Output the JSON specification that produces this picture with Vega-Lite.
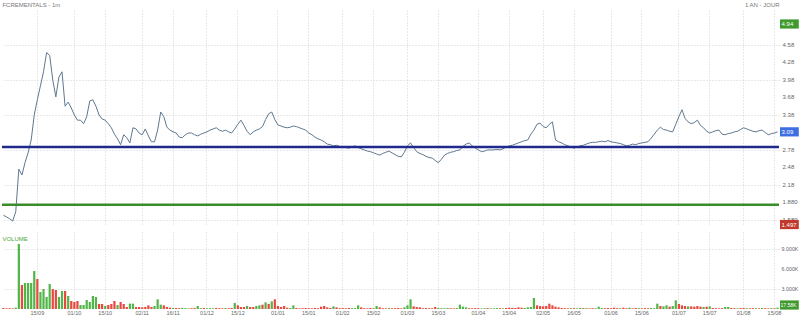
{
"$schema": "https://vega.github.io/schema/vega-lite/v6.json",
"padding": {"left": 0, "top": 2, "right": 0, "bottom": 0},
"background": "white",
"spacing": 2,
"config": {
  "view": {"stroke": null},
  "font": "Liberation Sans",
  "axis": {"gridColor": "#d2d2d2", "gridDash": [1, 2], "gridWidth": 1, "domain": false, "ticks": false, "labelColor": "#666", "labelFontSize": 6, "title": null, "zindex": 0, "labelOverlap": false},
  "scale": {"bandPaddingInner": 0.28, "bandPaddingOuter": 0.1}
},
"resolve": {"scale": {"x": "shared", "color": "independent"}},
"datasets": {
"q": [
{"d":"2015-08-31","p":1.66,"v":150,"u":0},{"d":"2015-09-01","p":1.63,"v":100,"u":0},{"d":"2015-09-02","p":1.60,"v":120,"u":0},{"d":"2015-09-03","p":1.56,"v":80,"u":0},{"d":"2015-09-04","p":1.72,"v":200,"u":1},
{"d":"2015-09-07","p":2.45,"v":9750,"u":1},{"d":"2015-09-08","p":2.35,"v":3600,"u":0},{"d":"2015-09-09","p":2.56,"v":3900,"u":1},{"d":"2015-09-10","p":2.73,"v":3900,"u":1},{"d":"2015-09-11","p":2.95,"v":3900,"u":1},
{"d":"2015-09-14","p":3.38,"v":5700,"u":1},{"d":"2015-09-15","p":3.64,"v":4500,"u":0},{"d":"2015-09-16","p":3.88,"v":2550,"u":1},{"d":"2015-09-17","p":4.12,"v":3000,"u":1},{"d":"2015-09-18","p":4.45,"v":1800,"u":1},
{"d":"2015-09-21","p":4.40,"v":3750,"u":1},{"d":"2015-09-22","p":3.98,"v":3000,"u":0},{"d":"2015-09-23","p":3.69,"v":2850,"u":0},{"d":"2015-09-24","p":4.03,"v":1800,"u":1},{"d":"2015-09-25","p":4.12,"v":2700,"u":1},
{"d":"2015-09-28","p":3.53,"v":2700,"u":0},{"d":"2015-09-29","p":3.60,"v":1950,"u":1},{"d":"2015-09-30","p":3.50,"v":1200,"u":0},{"d":"2015-10-01","p":3.38,"v":1050,"u":0},{"d":"2015-10-02","p":3.29,"v":1200,"u":0},
{"d":"2015-10-05","p":3.29,"v":600,"u":1},{"d":"2015-10-06","p":3.23,"v":600,"u":1},{"d":"2015-10-07","p":3.35,"v":1350,"u":1},{"d":"2015-10-08","p":3.62,"v":1050,"u":1},{"d":"2015-10-09","p":3.64,"v":1950,"u":1},
{"d":"2015-10-12","p":3.53,"v":1800,"u":1},{"d":"2015-10-13","p":3.38,"v":750,"u":0},{"d":"2015-10-14","p":3.31,"v":750,"u":0},{"d":"2015-10-15","p":3.29,"v":450,"u":1},{"d":"2015-10-16","p":3.23,"v":600,"u":0},
{"d":"2015-10-19","p":3.16,"v":750,"u":0},{"d":"2015-10-20","p":3.05,"v":1200,"u":0},{"d":"2015-10-21","p":2.97,"v":600,"u":1},{"d":"2015-10-22","p":2.87,"v":1050,"u":0},{"d":"2015-10-23","p":3.04,"v":750,"u":0},
{"d":"2015-10-26","p":2.99,"v":300,"u":0},{"d":"2015-10-27","p":2.90,"v":800,"u":1},{"d":"2015-10-28","p":3.16,"v":800,"u":1},{"d":"2015-10-29","p":3.14,"v":300,"u":0},{"d":"2015-10-30","p":3.07,"v":300,"u":0},
{"d":"2015-11-02","p":3.04,"v":250,"u":0},{"d":"2015-11-03","p":3.14,"v":300,"u":0},{"d":"2015-11-04","p":3.02,"v":550,"u":0},{"d":"2015-11-05","p":2.92,"v":300,"u":0},{"d":"2015-11-06","p":2.92,"v":450,"u":1},
{"d":"2015-11-09","p":3.12,"v":1450,"u":1},{"d":"2015-11-10","p":3.43,"v":650,"u":1},{"d":"2015-11-11","p":3.35,"v":550,"u":0},{"d":"2015-11-12","p":3.17,"v":300,"u":0},{"d":"2015-11-13","p":3.12,"v":200,"u":0},
{"d":"2015-11-16","p":3.09,"v":150,"u":1},{"d":"2015-11-17","p":3.07,"v":150,"u":0},{"d":"2015-11-18","p":3.00,"v":120,"u":0},{"d":"2015-11-19","p":2.99,"v":180,"u":1},{"d":"2015-11-20","p":3.04,"v":130,"u":1},
{"d":"2015-11-23","p":3.07,"v":100,"u":1},{"d":"2015-11-24","p":3.07,"v":120,"u":0},{"d":"2015-11-25","p":3.04,"v":140,"u":0},{"d":"2015-11-26","p":3.02,"v":450,"u":1},{"d":"2015-11-27","p":3.05,"v":120,"u":1},
{"d":"2015-11-30","p":3.07,"v":150,"u":0},{"d":"2015-12-01","p":3.09,"v":100,"u":1},{"d":"2015-12-02","p":3.12,"v":130,"u":1},{"d":"2015-12-03","p":3.14,"v":110,"u":1},{"d":"2015-12-04","p":3.16,"v":160,"u":0},
{"d":"2015-12-07","p":3.12,"v":120,"u":0},{"d":"2015-12-08","p":3.10,"v":100,"u":0},{"d":"2015-12-09","p":3.12,"v":140,"u":1},{"d":"2015-12-10","p":3.09,"v":120,"u":0},{"d":"2015-12-11","p":3.07,"v":150,"u":0},
{"d":"2015-12-14","p":3.14,"v":900,"u":1},{"d":"2015-12-15","p":3.22,"v":550,"u":0},{"d":"2015-12-16","p":3.29,"v":300,"u":0},{"d":"2015-12-17","p":3.20,"v":300,"u":0},{"d":"2015-12-18","p":3.10,"v":450,"u":1},
{"d":"2015-12-21","p":3.04,"v":300,"u":0},{"d":"2015-12-22","p":3.09,"v":300,"u":0},{"d":"2015-12-23","p":3.12,"v":450,"u":1},{"d":"2015-12-24","p":3.14,"v":550,"u":1},{"d":"2015-12-25","p":3.18,"v":650,"u":0},
{"d":"2015-12-28","p":3.30,"v":1000,"u":1},{"d":"2015-12-29","p":3.40,"v":750,"u":0},{"d":"2015-12-30","p":3.43,"v":1150,"u":1},{"d":"2015-12-31","p":3.30,"v":1450,"u":0},{"d":"2016-01-01","p":3.21,"v":450,"u":0},
{"d":"2016-01-04","p":3.19,"v":300,"u":0},{"d":"2016-01-05","p":3.17,"v":450,"u":0},{"d":"2016-01-06","p":3.16,"v":200,"u":0},{"d":"2016-01-07","p":3.17,"v":150,"u":1},{"d":"2016-01-08","p":3.19,"v":550,"u":1},
{"d":"2016-01-11","p":3.18,"v":150,"u":0},{"d":"2016-01-12","p":3.16,"v":100,"u":0},{"d":"2016-01-13","p":3.14,"v":120,"u":0},{"d":"2016-01-14","p":3.12,"v":150,"u":0},{"d":"2016-01-15","p":3.07,"v":120,"u":0},
{"d":"2016-01-18","p":3.04,"v":100,"u":0},{"d":"2016-01-19","p":3.00,"v":150,"u":0},{"d":"2016-01-20","p":2.97,"v":120,"u":0},{"d":"2016-01-21","p":2.95,"v":350,"u":0},{"d":"2016-01-22","p":2.92,"v":450,"u":0},
{"d":"2016-01-25","p":2.88,"v":250,"u":0},{"d":"2016-01-26","p":2.87,"v":150,"u":0},{"d":"2016-01-27","p":2.85,"v":400,"u":1},{"d":"2016-01-28","p":2.86,"v":250,"u":0},{"d":"2016-01-29","p":2.84,"v":120,"u":0},
{"d":"2016-02-01","p":2.83,"v":130,"u":0},{"d":"2016-02-02","p":2.82,"v":110,"u":0},{"d":"2016-02-03","p":2.81,"v":150,"u":0},{"d":"2016-02-04","p":2.83,"v":120,"u":1},{"d":"2016-02-05","p":2.85,"v":140,"u":1},
{"d":"2016-02-08","p":2.82,"v":550,"u":1},{"d":"2016-02-09","p":2.80,"v":250,"u":0},{"d":"2016-02-10","p":2.78,"v":120,"u":0},{"d":"2016-02-11","p":2.76,"v":100,"u":0},{"d":"2016-02-12","p":2.75,"v":150,"u":0},
{"d":"2016-02-15","p":2.73,"v":120,"u":1},{"d":"2016-02-16","p":2.71,"v":450,"u":1},{"d":"2016-02-17","p":2.69,"v":250,"u":0},{"d":"2016-02-18","p":2.72,"v":120,"u":0},{"d":"2016-02-19","p":2.74,"v":100,"u":0},
{"d":"2016-02-22","p":2.76,"v":140,"u":1},{"d":"2016-02-23","p":2.73,"v":110,"u":0},{"d":"2016-02-24","p":2.70,"v":120,"u":0},{"d":"2016-02-25","p":2.67,"v":150,"u":0},{"d":"2016-02-26","p":2.66,"v":100,"u":0},
{"d":"2016-02-29","p":2.74,"v":250,"u":1},{"d":"2016-03-01","p":2.85,"v":550,"u":1},{"d":"2016-03-02","p":2.90,"v":1450,"u":1},{"d":"2016-03-03","p":2.82,"v":400,"u":0},{"d":"2016-03-04","p":2.75,"v":300,"u":0},
{"d":"2016-03-07","p":2.72,"v":250,"u":0},{"d":"2016-03-08","p":2.70,"v":120,"u":0},{"d":"2016-03-09","p":2.67,"v":150,"u":0},{"d":"2016-03-10","p":2.65,"v":120,"u":0},{"d":"2016-03-11","p":2.64,"v":110,"u":0},
{"d":"2016-03-14","p":2.60,"v":300,"u":0},{"d":"2016-03-15","p":2.56,"v":150,"u":1},{"d":"2016-03-16","p":2.62,"v":120,"u":1},{"d":"2016-03-17","p":2.69,"v":100,"u":1},{"d":"2016-03-18","p":2.72,"v":140,"u":1},
{"d":"2016-03-21","p":2.74,"v":120,"u":0},{"d":"2016-03-22","p":2.75,"v":100,"u":0},{"d":"2016-03-23","p":2.77,"v":130,"u":1},{"d":"2016-03-24","p":2.78,"v":650,"u":1},{"d":"2016-03-25","p":2.84,"v":350,"u":1},
{"d":"2016-03-28","p":2.88,"v":250,"u":1},{"d":"2016-03-29","p":2.90,"v":120,"u":0},{"d":"2016-03-30","p":2.85,"v":100,"u":0},{"d":"2016-03-31","p":2.81,"v":130,"u":0},{"d":"2016-04-01","p":2.78,"v":120,"u":0},
{"d":"2016-04-04","p":2.75,"v":100,"u":1},{"d":"2016-04-05","p":2.76,"v":110,"u":1},{"d":"2016-04-06","p":2.78,"v":130,"u":0},{"d":"2016-04-07","p":2.78,"v":100,"u":1},{"d":"2016-04-08","p":2.78,"v":110,"u":1},
{"d":"2016-04-11","p":2.79,"v":140,"u":1},{"d":"2016-04-12","p":2.78,"v":120,"u":0},{"d":"2016-04-13","p":2.80,"v":100,"u":1},{"d":"2016-04-14","p":2.83,"v":150,"u":0},{"d":"2016-04-15","p":2.85,"v":200,"u":0},
{"d":"2016-04-18","p":2.86,"v":180,"u":0},{"d":"2016-04-19","p":2.88,"v":150,"u":0},{"d":"2016-04-20","p":2.90,"v":250,"u":0},{"d":"2016-04-21","p":2.92,"v":200,"u":0},{"d":"2016-04-22","p":2.94,"v":150,"u":1},
{"d":"2016-04-25","p":2.95,"v":250,"u":1},{"d":"2016-04-26","p":3.05,"v":300,"u":1},{"d":"2016-04-27","p":3.12,"v":1650,"u":1},{"d":"2016-04-28","p":3.22,"v":550,"u":0},{"d":"2016-04-29","p":3.24,"v":450,"u":0},
{"d":"2016-05-02","p":3.18,"v":400,"u":0},{"d":"2016-05-03","p":3.16,"v":450,"u":0},{"d":"2016-05-04","p":3.22,"v":800,"u":0},{"d":"2016-05-05","p":3.26,"v":550,"u":0},{"d":"2016-05-06","p":2.95,"v":350,"u":0},
{"d":"2016-05-09","p":2.92,"v":250,"u":0},{"d":"2016-05-10","p":2.90,"v":150,"u":0},{"d":"2016-05-11","p":2.87,"v":120,"u":0},{"d":"2016-05-12","p":2.85,"v":100,"u":0},{"d":"2016-05-13","p":2.83,"v":130,"u":1},
{"d":"2016-05-16","p":2.81,"v":120,"u":0},{"d":"2016-05-17","p":2.83,"v":100,"u":1},{"d":"2016-05-18","p":2.85,"v":150,"u":1},{"d":"2016-05-19","p":2.86,"v":120,"u":0},{"d":"2016-05-20","p":2.88,"v":130,"u":1},
{"d":"2016-05-23","p":2.90,"v":100,"u":0},{"d":"2016-05-24","p":2.91,"v":120,"u":0},{"d":"2016-05-25","p":2.91,"v":110,"u":1},{"d":"2016-05-26","p":2.92,"v":350,"u":1},{"d":"2016-05-27","p":2.93,"v":150,"u":1},
{"d":"2016-05-30","p":2.92,"v":120,"u":0},{"d":"2016-05-31","p":2.94,"v":140,"u":0},{"d":"2016-06-01","p":2.92,"v":120,"u":0},{"d":"2016-06-02","p":2.91,"v":200,"u":0},{"d":"2016-06-03","p":2.90,"v":130,"u":0},
{"d":"2016-06-06","p":2.89,"v":110,"u":1},{"d":"2016-06-07","p":2.87,"v":200,"u":0},{"d":"2016-06-08","p":2.85,"v":120,"u":0},{"d":"2016-06-09","p":2.86,"v":200,"u":1},{"d":"2016-06-10","p":2.88,"v":100,"u":0},
{"d":"2016-06-13","p":2.87,"v":150,"u":0},{"d":"2016-06-14","p":2.89,"v":120,"u":1},{"d":"2016-06-15","p":2.90,"v":100,"u":0},{"d":"2016-06-16","p":2.91,"v":130,"u":0},{"d":"2016-06-17","p":2.92,"v":110,"u":0},
{"d":"2016-06-20","p":2.98,"v":150,"u":1},{"d":"2016-06-21","p":3.05,"v":120,"u":1},{"d":"2016-06-22","p":3.12,"v":800,"u":1},{"d":"2016-06-23","p":3.17,"v":450,"u":0},{"d":"2016-06-24","p":3.13,"v":400,"u":1},
{"d":"2016-06-27","p":3.12,"v":550,"u":1},{"d":"2016-06-28","p":3.10,"v":350,"u":0},{"d":"2016-06-29","p":3.09,"v":450,"u":1},{"d":"2016-06-30","p":3.22,"v":1300,"u":1},{"d":"2016-07-01","p":3.35,"v":750,"u":0},
{"d":"2016-07-04","p":3.47,"v":550,"u":0},{"d":"2016-07-05","p":3.32,"v":450,"u":0},{"d":"2016-07-06","p":3.26,"v":400,"u":1},{"d":"2016-07-07","p":3.23,"v":400,"u":0},{"d":"2016-07-08","p":3.25,"v":350,"u":0},
{"d":"2016-07-11","p":3.29,"v":450,"u":0},{"d":"2016-07-12","p":3.20,"v":350,"u":0},{"d":"2016-07-13","p":3.16,"v":300,"u":1},{"d":"2016-07-14","p":3.10,"v":350,"u":0},{"d":"2016-07-15","p":3.07,"v":400,"u":1},
{"d":"2016-07-18","p":3.09,"v":150,"u":0},{"d":"2016-07-19","p":3.11,"v":120,"u":0},{"d":"2016-07-20","p":3.12,"v":100,"u":0},{"d":"2016-07-21","p":3.05,"v":130,"u":0},{"d":"2016-07-22","p":3.04,"v":300,"u":1},
{"d":"2016-07-25","p":3.06,"v":300,"u":1},{"d":"2016-07-26","p":3.07,"v":150,"u":0},{"d":"2016-07-27","p":3.09,"v":120,"u":0},{"d":"2016-07-28","p":3.10,"v":100,"u":1},{"d":"2016-07-29","p":3.13,"v":130,"u":0},
{"d":"2016-08-01","p":3.16,"v":150,"u":0},{"d":"2016-08-02","p":3.14,"v":120,"u":1},{"d":"2016-08-03","p":3.12,"v":100,"u":0},{"d":"2016-08-04","p":3.10,"v":130,"u":0},{"d":"2016-08-05","p":3.09,"v":120,"u":1},
{"d":"2016-08-08","p":3.11,"v":100,"u":0},{"d":"2016-08-09","p":3.12,"v":150,"u":1},{"d":"2016-08-10","p":3.08,"v":120,"u":0},{"d":"2016-08-11","p":3.04,"v":100,"u":0},{"d":"2016-08-12","p":3.06,"v":130,"u":1},
{"d":"2016-08-15","p":3.07,"v":110,"u":0},{"d":"2016-08-16","p":3.09,"v":200,"u":1}
],
"tags": [
{"d":"2016-08-16","p":4.94,"t":"4.94","c":"hi"},
{"d":"2016-08-16","p":3.09,"t":"3.09","c":"last"},
{"d":"2016-08-16","p":1.50,"t":"1.497","c":"lo"}
],
"heads": [
{"d":"2015-08-31","t":"FCREMENTALS - 1m","a":"start"},
{"d":"2016-08-16","t":"1 AN - JOUR","a":"end"}
],
"pticks": [
{"d":"2016-08-16","p":1.58,"t":"1.580"},{"d":"2016-08-16","p":1.88,"t":"1.880"},{"d":"2016-08-16","p":2.18,"t":"2.18"},{"d":"2016-08-16","p":2.48,"t":"2.48"},
{"d":"2016-08-16","p":2.78,"t":"2.78"},{"d":"2016-08-16","p":3.38,"t":"3.38"},{"d":"2016-08-16","p":3.68,"t":"3.68"},
{"d":"2016-08-16","p":3.98,"t":"3.98"},{"d":"2016-08-16","p":4.28,"t":"4.28"},{"d":"2016-08-16","p":4.58,"t":"4.58"}
],
"vticks": [
{"d":"2016-08-16","v":3000,"t":"3.000K"},{"d":"2016-08-16","v":6000,"t":"6.000K"},{"d":"2016-08-16","v":9000,"t":"9.000K"}
]
},
"vconcat": [
{
  "width": 777,
  "height": 216,
  "layer": [
    {
      "data": {"name": "q"},
      "mark": {"type": "line", "color": "#5f7890", "strokeWidth": 1},
      "encoding": {
        "x": {"field": "d", "type": "ordinal", "bandPosition": 0.5, "scale": {"type": "band"},
              "axis": {"values": ["2015-09-15","2015-10-01","2015-10-15","2015-11-02","2015-11-16","2015-12-01","2015-12-15","2016-01-01","2016-01-15","2016-02-01","2016-02-15","2016-03-01","2016-03-15","2016-04-01","2016-04-15","2016-05-02","2016-05-16","2016-06-01","2016-06-15","2016-07-01","2016-07-15","2016-08-01","2016-08-15"], "labels": false, "grid": true}},
        "y": {"field": "p", "type": "quantitative", "scale": {"domain": [1.475, 5.18], "nice": false, "zero": false},
              "axis": {"orient": "right", "values": [1.58,1.88,2.18,2.48,2.78,3.08,3.38,3.68,3.98,4.28,4.58,4.88], "labels": false, "grid": true}}
      }
    },
    {
      "data": {"values": [{}]},
      "mark": {"type": "rule", "color": "#1f2a8c", "strokeWidth": 2.5},
      "encoding": {"y": {"datum": 2.83}}
    },
    {
      "data": {"values": [{}]},
      "mark": {"type": "rule", "color": "#3a8c2a", "strokeWidth": 2.5},
      "encoding": {"y": {"datum": 1.84}}
    },
    {
      "data": {"name": "pticks"},
      "mark": {"type": "text", "color": "#666", "fontSize": 6, "align": "left", "baseline": "middle", "dx": 5},
      "encoding": {
        "x": {"field": "d", "type": "ordinal", "bandPosition": 0.5},
        "y": {"field": "p", "type": "quantitative"},
        "text": {"field": "t"}
      }
    },
    {
      "data": {"name": "tags"},
      "mark": {"type": "point", "shape": "M0.6,-1.15H5.3V1.15H0.6Z", "filled": true, "opacity": 1, "size": 64, "strokeWidth": 0},
      "encoding": {
        "x": {"field": "d", "type": "ordinal", "bandPosition": 0.5},
        "y": {"field": "p", "type": "quantitative"},
        "color": {"field": "c", "type": "nominal", "scale": {"domain": ["hi", "last", "lo"], "range": ["#3f9a2f", "#3d6fe3", "#c0392b"]}, "legend": null}
      }
    },
    {
      "data": {"name": "tags"},
      "mark": {"type": "text", "color": "white", "fontSize": 6, "align": "left", "baseline": "middle", "dx": 4},
      "encoding": {
        "x": {"field": "d", "type": "ordinal", "bandPosition": 0.5},
        "y": {"field": "p", "type": "quantitative"},
        "text": {"field": "t"}
      }
    },
    {
      "data": {"name": "heads"},
      "transform": [{"filter": "datum.a == 'start'"}],
      "mark": {"type": "text", "align": "left", "baseline": "bottom", "dy": -2, "dx": -1, "fontSize": 6, "color": "#777"},
      "encoding": {
        "x": {"field": "d", "type": "ordinal"},
        "y": {"datum": 5.18},
        "text": {"field": "t"}
      }
    },
    {
      "data": {"name": "heads"},
      "transform": [{"filter": "datum.a == 'end'"}],
      "mark": {"type": "text", "align": "right", "baseline": "bottom", "dy": -2, "dx": 2, "fontSize": 6, "color": "#777"},
      "encoding": {
        "x": {"field": "d", "type": "ordinal", "bandPosition": 0.5},
        "y": {"datum": 5.18},
        "text": {"field": "t"}
      }
    }
  ]
},
{
  "width": 777,
  "height": 77,
  "layer": [
    {
      "data": {"name": "q"},
      "mark": {"type": "bar"},
      "encoding": {
        "x": {"field": "d", "type": "ordinal", "scale": {"type": "band"},
              "axis": {"values": ["2015-09-15","2015-10-01","2015-10-15","2015-11-02","2015-11-16","2015-12-01","2015-12-15","2016-01-01","2016-01-15","2016-02-01","2016-02-15","2016-03-01","2016-03-15","2016-04-01","2016-04-15","2016-05-02","2016-05-16","2016-06-01","2016-06-15","2016-07-01","2016-07-15","2016-08-01","2016-08-15"], "labelExpr": "slice(datum.value, 8, 10) + '/' + slice(datum.value, 5, 7)", "labelAngle": 0, "labelFlush": false, "labelOverlap": false, "grid": true, "labelPadding": 1, "labelFontSize": 5.5}},
        "y": {"field": "v", "type": "quantitative", "scale": {"domain": [0, 11550], "nice": false},
              "axis": {"orient": "right", "values": [3000, 6000, 9000], "labels": false, "grid": true}},
        "color": {"field": "u", "type": "nominal", "scale": {"domain": [0, 1], "range": ["#e8493f", "#52b547"]}, "legend": null}
      }
    },
    {
      "data": {"name": "vticks"},
      "mark": {"type": "text", "color": "#666", "fontSize": 5.3, "align": "left", "baseline": "middle", "dx": 4},
      "encoding": {
        "x": {"field": "d", "type": "ordinal", "bandPosition": 0.5},
        "y": {"field": "v", "type": "quantitative"},
        "text": {"field": "t"}
      }
    },
    {
      "data": {"values": [{"d": "2015-08-31", "t": "VOLUME"}]},
      "mark": {"type": "text", "align": "left", "baseline": "middle", "fontSize": 6, "color": "#4aa83a", "dx": -1},
      "encoding": {
        "x": {"field": "d", "type": "ordinal"},
        "y": {"datum": 10500},
        "text": {"field": "t"}
      }
    },
    {
      "data": {"values": [{"d": "2016-08-16", "v": 600, "t": "17.58K"}]},
      "mark": {"type": "point", "shape": "M0.6,-1.15H5.3V1.15H0.6Z", "filled": true, "opacity": 1, "size": 64, "strokeWidth": 0, "color": "#3f9a2f"},
      "encoding": {
        "x": {"field": "d", "type": "ordinal", "bandPosition": 0.5},
        "y": {"field": "v", "type": "quantitative"}
      }
    },
    {
      "data": {"values": [{"d": "2016-08-16", "v": 600, "t": "17.58K"}]},
      "mark": {"type": "text", "color": "white", "fontSize": 5, "align": "left", "baseline": "middle", "dx": 3},
      "encoding": {
        "x": {"field": "d", "type": "ordinal", "bandPosition": 0.5},
        "y": {"field": "v", "type": "quantitative"},
        "text": {"field": "t"}
      }
    }
  ]
}
]
}
